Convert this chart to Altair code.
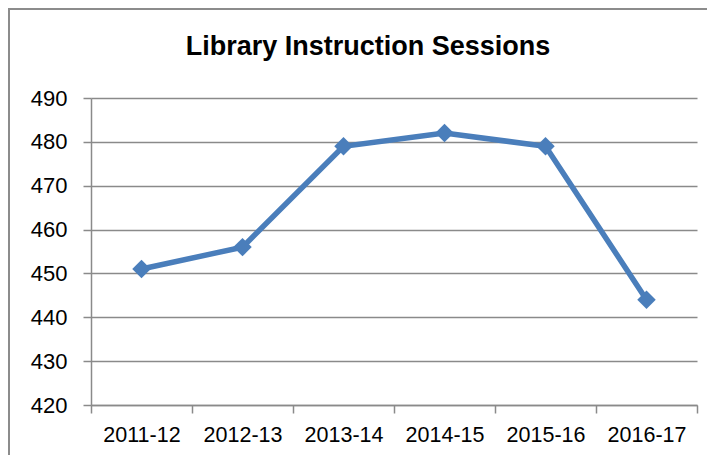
import altair as alt
import pandas as pd

years = ["2011-12", "2012-13", "2013-14", "2014-15", "2015-16", "2016-17"]
sessions = [451, 456, 479, 482, 479, 444]
y_ticks = [420, 430, 440, 450, 460, 470, 480, 490]

df = pd.DataFrame({"year": years, "sessions": sessions})

W, H = 606, 307
GRID = "#8a8a8a"
BLUE = "#4a7ebb"
FONT = "Liberation Sans"

x_enc = alt.X(
    "year:N",
    sort=years,
    scale=alt.Scale(type="band", paddingInner=0, paddingOuter=0),
    axis=alt.Axis(
        title=None,
        tickBand="extent",
        ticks=True,
        tickSize=8,
        tickColor=GRID,
        tickWidth=1.5,
        domainColor=GRID,
        domainWidth=1.5,
        labelFont=FONT,
        labelFontSize=21.5,
        labelColor="#000000",
        labelPadding=11,
        labelAngle=0,
        grid=False,
    ),
)
y_enc = alt.Y(
    "sessions:Q",
    scale=alt.Scale(domain=[420, 490], nice=False, zero=False),
    axis=alt.Axis(
        title=None,
        values=y_ticks,
        tickSize=8,
        tickColor=GRID,
        tickWidth=1.5,
        domainColor=GRID,
        domainWidth=1.5,
        gridColor=GRID,
        gridWidth=1.5,
        gridOpacity=1,
        labelFont=FONT,
        labelFontSize=22,
        labelColor="#000000",
        labelPadding=16,
    ),
)

frame = alt.Chart(df).mark_rect(
    fill=None, stroke="#8c8c8c", strokeWidth=2, filled=False
).encode(
    x=alt.value(-82), x2=alt.value(W + 60),
    y=alt.value(-89), y2=alt.value(H + 120),
)

line = alt.Chart(df).mark_line(color=BLUE, strokeWidth=5.5).encode(x=x_enc, y=y_enc)
pts = alt.Chart(df).mark_point(
    shape="diamond", filled=True, size=340, color=BLUE, opacity=1
).encode(x=alt.X("year:N", sort=years), y="sessions:Q")

chart = alt.layer(frame, line, pts).properties(
    width=W,
    height=H,
    title=alt.TitleParams(
        "Library Instruction Sessions",
        font=FONT,
        fontSize=27,
        fontWeight="bold",
        color="#000000",
        anchor="middle",
        baseline="alphabetic",
        dx=-26,
        dy=74,
        offset=0,
    ),
    autosize=alt.AutoSizeParams(type="none"),
    padding={"left": 83, "top": 90, "right": 10, "bottom": 50},
).configure_view(stroke=None)

chart.save("out.html", embed_options={"renderer": "svg", "actions": False})
